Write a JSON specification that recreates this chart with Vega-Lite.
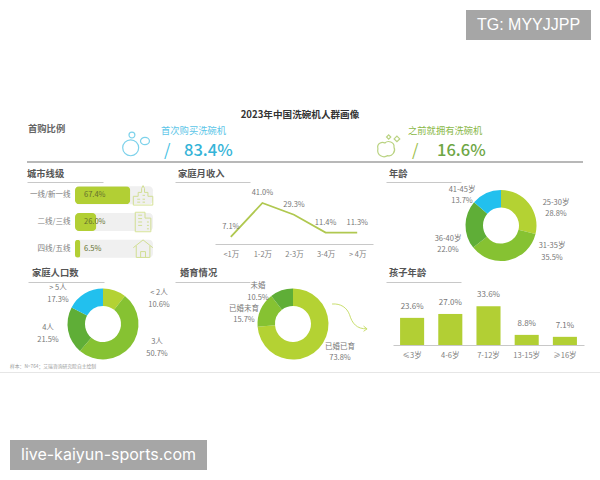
{
"$schema":"https://vega.github.io/schema/vega-lite/v6.json",
"padding":0,
"background":"#ffffff",
"spacing":0,
"config":{"font":"Noto Sans CJK SC","view":{"stroke":null,"fill":"transparent"},"text":{"fontSize":7.5,"color":"#777777","lineBreak":"\n","lineHeight":11.5},
"axis":{"title":null,"grid":false,"ticks":false,"labelColor":"#808080","labelFontSize":7.5,"domainColor":"#c8c8c8"}},
"vconcat":[
{"width":600,"height":10,"data":{"values":[]},"mark":"text","encoding":{}},
{"spacing":0,"bounds":"flush","hconcat":[
 {"width":466,"height":30,"data":{"values":[]},"mark":"text","encoding":{}},
 {"width":125,"height":30,"view":{"fill":"#a6a6a6","stroke":null},"data":{"values":[{"t":"TG: MYYJJPP"}]},"mark":{"type":"text","font":"Liberation Sans","fontSize":16,"color":"#ffffff"},"encoding":{"text":{"field":"t"}}}
]},
{"width":600,"height":65,"data":{"values":[]},"mark":"text","encoding":{}},
{"width":600,"height":20,"data":{"values":[{"t":"2023年中国洗碗机人群画像"}]},"mark":{"type":"text","fontSize":9.6,"fontWeight":"bold","color":"#333333"},"encoding":{"text":{"field":"t"}}},
{"spacing":0,"bounds":"flush","hconcat":[
 {"width":28,"height":36,"data":{"values":[]},"mark":"text","encoding":{}},
 {"width":90,"height":36,"data":{"values":[{"t":"首购比例"}]},"mark":{"type":"text","align":"left","dy":-13.7,"fontSize":9.3,"fontWeight":"bold","color":"#666666"},"encoding":{"text":{"field":"t"},"x":{"datum":0,"type":"quantitative","scale":{"domain":[0,1]},"axis":null}}},
 {"width":43,"height":36,"data":{"values":[{"icon":"泡泡"}]},"mark":{"type":"point","filled":false,"stroke":"#45bfe3","strokeWidth":1.2,"size":784,"shape":"M-1.2 0.34A0.57 0.57 0 1 0 -0.06 0.34A0.57 0.57 0 1 0 -1.2 0.34ZM-0.75 -0.57A0.21 0.21 0 1 0 -0.33 -0.57A0.21 0.21 0 1 0 -0.75 -0.57ZM0.07 -0.14A0.32 0.26 0 1 0 0.71 -0.14A0.32 0.26 0 1 0 0.07 -0.14Z"},"encoding":{}},
 {"width":212,"height":36,"data":{"values":[{"name":"首次购买洗碗机","share":0.834,"slash":"/"}]},
  "encoding":{"x":{"datum":0,"type":"quantitative","scale":{"domain":[0,1]},"axis":null}},
  "layer":[
  {"mark":{"type":"text","align":"left","dy":-12.5,"fontSize":9.3,"color":"#5cc6e8"},"encoding":{"text":{"field":"name"}}},
  {"mark":{"type":"text","align":"left","dx":3,"dy":8,"fontSize":16.5,"color":"#45bfe3"},"encoding":{"text":{"field":"slash"}}},
  {"mark":{"type":"text","align":"left","dx":23,"dy":8,"fontSize":16.5,"fontWeight":500,"color":"#35b4d8"},"encoding":{"text":{"field":"share","type":"quantitative","format":".1%"}}}
 ]},
 {"width":35,"height":36,"data":{"values":[{"icon":"污渍"}]},"mark":{"type":"point","filled":false,"stroke":"#9cc04c","strokeWidth":1.2,"size":784,"shape":"M-0.9 0.4C-1 0 -0.6 -0.1 -0.4 0C-0.2 -0.2 0.3 -0.1 0.25 0.3C0.4 0.6 0.1 1 -0.2 0.9C-0.5 1.1 -1 0.9 -0.9 0.4ZM-0.13 -0.58L0.02 -0.43L-0.13 -0.28L-0.28 -0.43ZM0.46 -0.49L0.66 -0.29L0.46 -0.09L0.26 -0.29Z"},"encoding":{}},
 {"width":192,"height":36,"data":{"values":[{"name":"之前就拥有洗碗机","share":0.166,"slash":"/"}]},
  "encoding":{"x":{"datum":0,"type":"quantitative","scale":{"domain":[0,1]},"axis":null}},
  "layer":[
  {"mark":{"type":"text","align":"left","dy":-12.5,"fontSize":9.3,"color":"#8ab848"},"encoding":{"text":{"field":"name"}}},
  {"mark":{"type":"text","align":"left","dx":4,"dy":8,"fontSize":16.5,"color":"#9cc04c"},"encoding":{"text":{"field":"slash"}}},
  {"mark":{"type":"text","align":"left","dx":29,"dy":8,"fontSize":16.5,"fontWeight":500,"color":"#6ea645"},"encoding":{"text":{"field":"share","type":"quantitative","format":".1%"}}}
 ]}
]},
{"spacing":0,"bounds":"flush","hconcat":[
 {"width":27,"height":2,"data":{"values":[]},"mark":"text","encoding":{}},
 {"width":556,"height":2,"view":{"fill":"#b8b8b8","stroke":null},"data":{"values":[]},"mark":"text","encoding":{}}
]},
{"width":600,"height":2,"data":{"values":[]},"mark":"text","encoding":{}},
{"spacing":0,"bounds":"flush","hconcat":[
 {"width":27,"height":17,"data":{"values":[]},"mark":"text","encoding":{}},
 {"width":76,"height":17,"data":{"values":[{"t":"城市线级"}]},"mark":{"type":"text","align":"left","fontSize":9.3,"fontWeight":"bold","color":"#555555"},"encoding":{"text":{"field":"t"},"x":{"datum":0,"type":"quantitative","scale":{"domain":[0,1]},"axis":{"labels":false,"domain":true}}}},
 {"width":72,"height":17,"data":{"values":[]},"mark":"text","encoding":{}},
 {"width":75,"height":17,"data":{"values":[{"t":"家庭月收入"}]},"mark":{"type":"text","align":"left","dx":3,"fontSize":9.3,"fontWeight":"bold","color":"#555555"},"encoding":{"text":{"field":"t"},"x":{"datum":0,"type":"quantitative","scale":{"domain":[0,1]},"axis":{"labels":false,"domain":true}}}},
 {"width":136,"height":17,"data":{"values":[]},"mark":"text","encoding":{}},
 {"width":75,"height":17,"data":{"values":[{"t":"年龄"}]},"mark":{"type":"text","align":"left","dx":3,"fontSize":9.3,"fontWeight":"bold","color":"#555555"},"encoding":{"text":{"field":"t"},"x":{"datum":0,"type":"quantitative","scale":{"domain":[0,1]},"axis":{"labels":false,"domain":true}}}}
]},
{"spacing":0,"bounds":"flush","hconcat":[
 {"width":75,"height":82,"data":{"values":[]},"mark":"text","encoding":{}},
 {"width":82,"height":80,
  "data":{"values":[{"city":"一线/新一线","share":0.674},{"city":"二线/三线","share":0.26},{"city":"四线/五线","share":0.065}]},
  "encoding":{"y":{"field":"city","type":"nominal","sort":null,"axis":{"domain":false,"labelPadding":5}}},
  "layer":[
  {"mark":{"type":"bar","size":18,"cornerRadius":4,"color":"#f0f0f0"},"encoding":{"x":{"datum":0.95,"type":"quantitative","scale":{"domain":[0,1]},"axis":null}}},
  {"mark":{"type":"bar","size":18,"cornerRadius":4,"color":"#b2cf34"},"encoding":{"x":{"field":"share","type":"quantitative"}}},
  {"mark":{"type":"text","align":"left","dx":9,"color":"#66702e"},"encoding":{"x":{"datum":0,"type":"quantitative"},"text":{"field":"share","type":"quantitative","format":".1%"}}},
  {"mark":{"type":"point","filled":false,"stroke":"#c5d86d","strokeWidth":1,"size":380},"encoding":{"x":{"datum":0.83,"type":"quantitative"},"shape":{"field":"city","type":"nominal","legend":null,"scale":{"domain":["一线/新一线","二线/三线","四线/五线"],"range":["M-1 1V0.1H-0.5V-0.3H-0.15V-0.7L0 -1L0.15 -0.7V-0.3H0.5V0.1H1V1ZM-0.6 0.4H-0.3M-0.6 0.7H-0.3M-0.05 0H0.2M-0.05 0.4H0.2M-0.05 0.7H0.2","M-0.8 1V-1H0.2V-0.4H0.8V1ZM-0.5 -0.7H-0.1M-0.5 -0.35H-0.1M-0.5 0H-0.1M-0.5 0.35H-0.1M0.4 0H0.6M0.4 0.35H0.6M0.4 0.7H0.6","M-1 -0.1L0 -0.9L1 -0.1M-0.7 -0.3V0.9H0.7V-0.3M-0.25 0.9V0.3H0.25V0.9"]}}}}
 ]},
 {"width":58,"height":82,"data":{"values":[]},"mark":"text","encoding":{}},
 {"width":158,"height":62,
  "data":{"values":[{"income":"<1万","share":0.071},{"income":"1-2万","share":0.41},{"income":"2-3万","share":0.293},{"income":"3-4万","share":0.114},{"income":"> 4万","share":0.113}]},
  "encoding":{"x":{"field":"income","type":"nominal","sort":null,"axis":{"labelAngle":0,"labelPadding":6}},"y":{"field":"share","type":"quantitative","scale":{"domain":[0,0.62]},"axis":null}},
  "layer":[
  {"mark":{"type":"line","color":"#b0c850","strokeWidth":1.8}},
  {"mark":{"type":"text","dy":-10},"encoding":{"text":{"field":"share","type":"quantitative","format":".1%"}}}
 ]},
 {"width":58,"height":82,"data":{"values":[]},"mark":"text","encoding":{}},
 {"spacing":0,"bounds":"flush","vconcat":[
  {"width":140,"height":5,"data":{"values":[]},"mark":"text","encoding":{}},
  {"width":140,"height":77,
   "data":{"values":[{"name":"25-30岁","share":0.288,"rank":1},{"name":"31-35岁","share":0.355,"rank":2},{"name":"36-40岁","share":0.22,"rank":3},{"name":"41-45岁","share":0.137,"rank":4}]},
   "transform":[{"calculate":"datum.name+'\\n'+format(datum.share,'.1%')","as":"label"}],
   "layer":[
   {"mark":{"type":"arc","innerRadius":18,"outerRadius":35.5},"encoding":{"theta":{"field":"share","type":"quantitative","stack":true},"order":{"field":"rank","type":"ordinal"},"color":{"field":"name","type":"nominal","legend":null,"scale":{"domain":["25-30岁","31-35岁","36-40岁","41-45岁"],"range":["#b4d233","#86c232","#5fae37","#22c0ee"]}}}},
   {"transform":[{"filter":"datum.rank==1"}],"mark":{"type":"text","dx":55,"dy":-23},"encoding":{"text":{"field":"label"}}},
   {"transform":[{"filter":"datum.rank==2"}],"mark":{"type":"text","dx":51,"dy":20.5},"encoding":{"text":{"field":"label"}}},
   {"transform":[{"filter":"datum.rank==3"}],"mark":{"type":"text","dx":-53,"dy":13},"encoding":{"text":{"field":"label"}}},
   {"transform":[{"filter":"datum.rank==4"}],"mark":{"type":"text","dx":-39,"dy":-36},"encoding":{"text":{"field":"label"}}}
  ]}
 ]}
]},
{"spacing":0,"bounds":"flush","hconcat":[
 {"width":28,"height":18,"data":{"values":[]},"mark":"text","encoding":{}},
 {"width":76,"height":18,"data":{"values":[{"t":"家庭人口数"}]},"mark":{"type":"text","align":"left","dx":4,"fontSize":9.3,"fontWeight":"bold","color":"#555555"},"encoding":{"text":{"field":"t"},"x":{"datum":0,"type":"quantitative","scale":{"domain":[0,1]},"axis":{"labels":false,"domain":true}}}},
 {"width":71,"height":18,"data":{"values":[]},"mark":"text","encoding":{}},
 {"width":75,"height":18,"data":{"values":[{"t":"婚育情况"}]},"mark":{"type":"text","align":"left","dx":5,"fontSize":9.3,"fontWeight":"bold","color":"#555555"},"encoding":{"text":{"field":"t"},"x":{"datum":0,"type":"quantitative","scale":{"domain":[0,1]},"axis":{"labels":false,"domain":true}}}},
 {"width":136,"height":18,"data":{"values":[]},"mark":"text","encoding":{}},
 {"width":75,"height":18,"data":{"values":[{"t":"孩子年龄"}]},"mark":{"type":"text","align":"left","dx":3,"fontSize":9.3,"fontWeight":"bold","color":"#555555"},"encoding":{"text":{"field":"t"},"x":{"datum":0,"type":"quantitative","scale":{"domain":[0,1]},"axis":{"labels":false,"domain":true}}}}
]},
{"spacing":0,"bounds":"flush","hconcat":[
 {"width":28,"height":90,"data":{"values":[]},"mark":"text","encoding":{}},
 {"width":150,"height":84,
  "layer":[
  {"data":{"values":[{"name":"< 2人","share":0.106,"rank":1},{"name":"3人","share":0.507,"rank":2},{"name":"4人","share":0.215,"rank":3},{"name":"> 5人","share":0.173,"rank":4}]},
   "transform":[{"calculate":"datum.name+'\\n'+format(datum.share,'.1%')","as":"label"}],
   "layer":[
   {"mark":{"type":"arc","innerRadius":18,"outerRadius":35.5},"encoding":{"theta":{"field":"share","type":"quantitative","stack":true},"order":{"field":"rank","type":"ordinal"},"color":{"field":"name","type":"nominal","legend":null,"scale":{"domain":["< 2人","3人","4人","> 5人"],"range":["#b4d233","#86c232","#5fae37","#22c0ee"]}}}},
   {"transform":[{"filter":"datum.rank==1"}],"mark":{"type":"text","dx":56,"dy":-31},"encoding":{"text":{"field":"label"}}},
   {"transform":[{"filter":"datum.rank==2"}],"mark":{"type":"text","dx":54,"dy":18},"encoding":{"text":{"field":"label"}}},
   {"transform":[{"filter":"datum.rank==3"}],"mark":{"type":"text","dx":-55,"dy":4},"encoding":{"text":{"field":"label"}}},
   {"transform":[{"filter":"datum.rank==4"}],"mark":{"type":"text","dx":-45,"dy":-36},"encoding":{"text":{"field":"label"}}}
  ]},
  {"data":{"values":[{"note":"样本：N=764；艾瑞咨询研究院自主绘制"}]},"mark":{"type":"text","align":"left","dx":-93,"dy":43,"fontSize":4.8,"color":"#999999"},"encoding":{"text":{"field":"note"}}}
 ]},
 {"width":50,"height":84,"data":{"values":[]},"mark":"text","encoding":{}},
 {"width":130,"height":84,
  "layer":[
  {"data":{"values":[{"name":"已婚已育","share":0.738,"rank":1},{"name":"已婚未育","share":0.157,"rank":2},{"name":"未婚","share":0.105,"rank":3}]},
   "transform":[{"calculate":"datum.name+'\\n'+format(datum.share,'.1%')","as":"label"}],
   "layer":[
   {"mark":{"type":"arc","innerRadius":18,"outerRadius":35.5},"encoding":{"theta":{"field":"share","type":"quantitative","stack":true},"order":{"field":"rank","type":"ordinal"},"color":{"field":"name","type":"nominal","legend":null,"scale":{"domain":["已婚已育","已婚未育","未婚"],"range":["#b4d233","#86c232","#22c0ee"]}}}},
   {"transform":[{"filter":"datum.rank==1"}],"mark":{"type":"text","dx":47,"dy":22.5},"encoding":{"text":{"field":"label"}}},
   {"transform":[{"filter":"datum.rank==2"}],"mark":{"type":"text","dx":-49,"dy":-15.5},"encoding":{"text":{"field":"label"}}},
   {"transform":[{"filter":"datum.rank==3"}],"mark":{"type":"text","dx":-35,"dy":-38},"encoding":{"text":{"field":"label"}}}
  ]},
  {"data":{"values":[{"note":"箭头"}]},"mark":{"type":"point","filled":false,"stroke":"#b4d233","strokeWidth":1,"size":1225,"shape":"M-1 -0.71C-0.5 -0.75 -0.15 -0.5 0 -0.1C0.15 0.4 0.4 0.72 1 0.71M0.8 0.55L1 0.71L0.8 0.85"},"encoding":{"x":{"datum":0.935,"type":"quantitative","scale":{"domain":[0,1]},"axis":null},"y":{"datum":0.41,"type":"quantitative","scale":{"domain":[1,0]},"axis":null}}}
 ]},
 {"width":35,"height":84,"data":{"values":[]},"mark":"text","encoding":{}},
 {"width":191,"height":63,
  "data":{"values":[{"age":"≤3岁","share":0.236},{"age":"4-6岁","share":0.27},{"age":"7-12岁","share":0.336},{"age":"13-15岁","share":0.088},{"age":"≥16岁","share":0.071}]},
  "encoding":{"x":{"field":"age","type":"nominal","sort":null,"scale":{"paddingInner":0.37,"paddingOuter":0.185},"axis":{"labelAngle":0,"labelPadding":6}},"y":{"field":"share","type":"quantitative","scale":{"domain":[0,0.548]},"axis":null}},
  "layer":[
  {"mark":{"type":"bar","color":"#b2cf34"}},
  {"mark":{"type":"text","dy":-11,"fontSize":8},"encoding":{"text":{"field":"share","type":"quantitative","format":".1%"}}}
 ]}
]},
{"width":600,"height":1,"view":{"fill":"#e6e6e6","stroke":null},"data":{"values":[]},"mark":"text","encoding":{}},
{"width":600,"height":67,"data":{"values":[]},"mark":"text","encoding":{}},
{"spacing":0,"bounds":"flush","hconcat":[
 {"width":10,"height":30,"data":{"values":[]},"mark":"text","encoding":{}},
 {"width":197,"height":30,"view":{"fill":"#a6a6a6","stroke":null},"data":{"values":[{"t":"live-kaiyun-sports.com"}]},"mark":{"type":"text","font":"Inter","fontSize":16,"color":"#ffffff"},"encoding":{"text":{"field":"t"}}}
]},
{"width":600,"height":10,"data":{"values":[]},"mark":"text","encoding":{}}
]
}
